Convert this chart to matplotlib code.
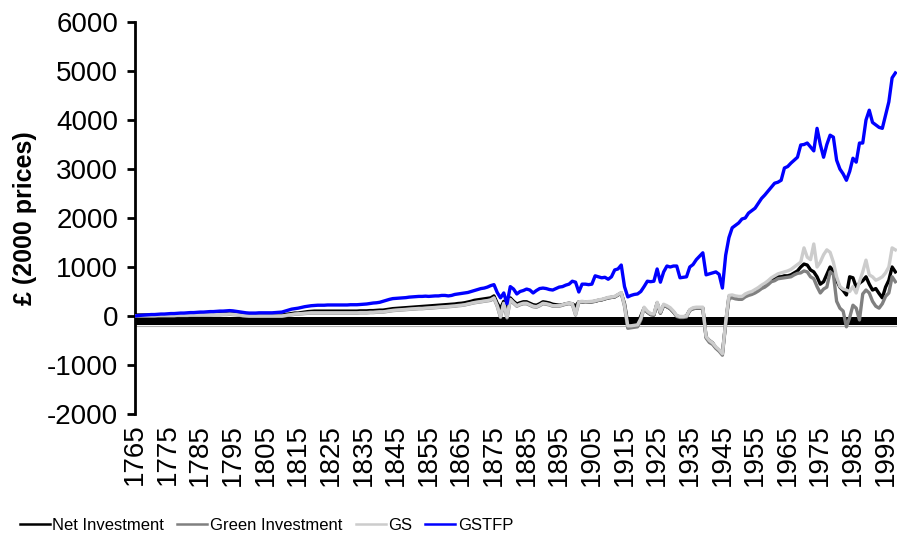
import numpy as np
import matplotlib
matplotlib.use("Agg")
import matplotlib.pyplot as plt

# years 1765 - 1998, one value per year
years = np.arange(1765, 1999)

net_investment = [
    20, 20, 20, 20, 20, 20, 20, 25, 25, 25,
    25, 25, 25, 30, 30, 30, 35, 35, 35, 40,
    40, 40, 45, 45, 45, 50, 50, 55, 55, 60,
    55, 50, 40, 30, 25, 20, 20, 20, 20, 20,
    20, 20, 20, 20, 20, 20, 30, 40, 50, 60,
    60, 70, 80, 90, 95, 100, 100, 100, 100, 100,
    100, 100, 100, 100, 100, 100, 100, 100, 100, 105,
    105, 105, 110, 110, 115, 120, 120, 130, 140, 150,
    155, 160, 165, 170, 175, 180, 185, 190, 195, 200,
    205, 210, 215, 220, 225, 230, 235, 240, 245, 255,
    260, 270, 285, 300, 320, 330, 340, 350, 360, 370,
    410, 260, 150, 300, 120, 370, 300, 245, 270, 290,
    290, 260, 230, 220, 250, 290, 280, 265, 240, 230,
    220, 230, 250, 260, 250, 200, 290, 290, 280, 285,
    290, 300, 320, 330, 350, 370, 380, 390, 430, 470,
    250, -150, -180, -200, -150, 0, 160, 80, 30, 20,
    265, 60, 220, 190, 150, 80, 0, -20, -20, 0,
    120, 150, 160, 160, 160, -430, -500, -550, -650, -700,
    -760, -140, 390, 400, 380, 370, 370, 420, 450, 470,
    500, 540, 590, 620, 680, 730, 760, 800, 800, 820,
    820, 840, 880, 920, 1000, 1060, 1040, 940, 900, 800,
    650, 700, 850, 1000, 920, 730, 590, 520, 430, 800,
    780, 590, 670, 720, 800, 650, 530, 560, 460, 370,
    590, 730, 1000, 900,
]

green_investment = [
    0, 0, 0, 0, 0, 0, 0, 5, 5, 5,
    5, 5, 5, 10, 10, 10, 10, 15, 15, 15,
    15, 20, 20, 20, 25, 25, 25, 30, 30, 35,
    30, 25, 15, 5, 0, -5, -5, -5, -5, -5,
    -5, -5, -5, -5, -5, -5, 5, 15, 25, 35,
    40, 45, 50, 55, 60, 60, 60, 60, 60, 60,
    60, 60, 60, 60, 60, 60, 60, 60, 60, 65,
    65, 65, 70, 70, 75, 80, 80, 90, 100, 110,
    115, 120, 125, 130, 135, 140, 145, 150, 150, 155,
    160, 165, 170, 175, 180, 185, 190, 195, 200, 210,
    215, 225, 240, 255, 270, 280, 290, 300, 310, 320,
    360, 200, -30, 250, -40, 330, 260, 200, 230, 250,
    250, 220, 190, 180, 210, 250, 240, 225, 200, 200,
    200, 220, 240, 250, 240, 20, 280, 290, 280, 285,
    290, 300, 320, 330, 350, 370, 380, 390, 430, 470,
    200, -250, -240, -230, -220, -80, 160, 80, 30, 20,
    260, 60, 220, 190, 150, 80, -10, -30, -30, -20,
    110, 150, 160, 160, 160, -450, -540, -580, -660, -720,
    -800, -160, 360, 370, 350, 340, 340, 390, 420, 440,
    470, 510, 560, 590, 640, 700, 720, 760, 770, 780,
    790, 800, 840, 870, 880, 920, 900, 800, 760, 600,
    470, 550, 590, 900, 850, 300, 160, 100, -220, -30,
    220, 160, -80, 450, 530, 470, 300, 200, 160, 250,
    400, 470, 800, 700,
]

gs = [
    5, 5, 5, 5, 5, 5, 5, 10, 10, 10,
    10, 10, 10, 15, 15, 15, 15, 20, 20, 20,
    20, 25, 25, 25, 30, 30, 30, 35, 35, 40,
    35, 30, 20, 10, 5, 0, 0, 0, 0, 0,
    0, 0, 0, 0, 0, 0, 10, 20, 30, 40,
    45, 50, 55, 60, 65, 65, 65, 65, 65, 65,
    65, 65, 65, 65, 65, 65, 65, 65, 65, 70,
    70, 70, 75, 75, 80, 85, 85, 95, 105, 115,
    120, 125, 130, 135, 140, 145, 150, 155, 155, 160,
    165, 170, 175, 180, 185, 190, 195, 200, 205, 215,
    220, 230, 245, 260, 275, 285, 295, 305, 315, 330,
    370, 210, -10, 260, -20, 340, 270, 210, 240, 260,
    260, 230, 200, 190, 220, 260, 250, 235, 210, 210,
    210, 230, 250, 260, 250, 30, 290, 300, 290, 295,
    300, 310, 330, 340, 360, 380, 390, 400, 440, 480,
    220, -200, -200, -190, -180, -50, 180, 100, 50, 40,
    280, 80, 240, 210, 170, 100, 10, -10, -10, 0,
    130, 170, 180, 180, 180, -420, -500, -550, -630, -690,
    -770, -120, 420, 430, 410, 400, 400, 450, 480, 500,
    540, 580, 630, 670, 720, 780, 820, 860, 880, 900,
    920, 950, 1000, 1050, 1100, 1390, 1200, 1150, 1470, 1000,
    1100, 1250, 1350, 1300, 1100, 800, 600, 550, 530, 500,
    600, 470, 700, 900, 1140, 840, 800, 730, 760, 800,
    880, 1000, 1390, 1350,
]

gstfp = [
    0, 10, 15, 20, 25, 30, 30, 35, 40, 40,
    45, 50, 50, 55, 60, 60, 65, 70, 70, 75,
    80, 80, 85, 90, 90, 95, 100, 100, 105, 110,
    105, 95, 85, 75, 65, 60, 60, 60, 65, 65,
    65, 65, 65, 70, 75, 80, 100, 120, 140, 150,
    160, 175, 190, 200, 210, 215, 220, 220, 220, 225,
    225, 225, 225, 225, 225, 225, 230, 230, 230, 235,
    240, 245, 255, 265, 270, 280, 300, 320, 340, 355,
    360, 365, 370, 375, 385, 390, 395, 400, 400, 405,
    400, 405, 410, 410, 420, 420, 410, 420, 440, 450,
    460, 470, 480, 500, 520, 540, 560, 570, 590, 620,
    640, 480, 370, 470, 250, 600, 550, 450, 500, 520,
    550, 530, 470, 520, 560, 570, 560, 540, 530, 560,
    590, 600, 630, 650, 710, 690, 490, 650, 650, 640,
    650, 820, 800, 780, 790, 750, 800, 940, 960, 1040,
    600, 390, 420, 440, 450, 500, 600, 710, 700, 710,
    960, 690, 900, 1020, 1000, 1020, 1020, 780, 790, 800,
    1000, 1050, 1150, 1220, 1290, 840, 860, 880, 900, 850,
    570, 1240, 1600, 1800, 1850, 1900, 1980, 2000, 2100, 2150,
    2200, 2300, 2400, 2470, 2550, 2630, 2710, 2730, 2770, 3020,
    3050, 3120, 3180, 3240, 3490, 3500, 3530, 3450, 3370, 3830,
    3500, 3240, 3500, 3690, 3650, 3180, 3000, 2900, 2770, 2950,
    3220, 3140, 3530, 3530, 4000, 4200, 3950, 3900, 3850, 3830,
    4100, 4370, 4860, 4960,
]

xtick_years = list(range(1765, 1996, 10))
yticks = [-2000, -1000, 0, 1000, 2000, 3000, 4000, 5000, 6000]

plt.rcParams['font.family'] = ['Liberation Sans', 'DejaVu Sans']
plt.rcParams['axes.unicode_minus'] = False

fig = plt.figure(figsize=(8.97, 5.42), dpi=100)
ax = fig.add_axes([135 / 897, 128 / 542, 762 / 897, 392 / 542])

# thick band under the zero line
ax.axhspan(-190, -20, color='black', lw=0, zorder=1)
ax.axhline(-195, color='#b0b0b0', lw=0.8, zorder=1)

lw = 2.4
ax.plot(years, net_investment, color='black', lw=lw, label='Net Investment', zorder=3)
ax.plot(years, green_investment, color='#808080', lw=lw, label='Green Investment', zorder=3)
ax.plot(years, gs, color='#cccccc', lw=lw, label='GS', zorder=3)
ax.plot(years, gstfp, color='#0000ff', lw=lw, label='GSTFP', zorder=4)

ax.set_xlim(1765, 1998.5)
ax.set_ylim(-2000, 6000)
ax.set_yticks(yticks)
ax.set_xticks(xtick_years)
ax.set_xticklabels([str(y) for y in xtick_years], rotation=90)

for s in ['top', 'right', 'bottom']:
    ax.spines[s].set_visible(False)
ax.spines['left'].set_linewidth(2)
ax.tick_params(axis='y', direction='out', length=6, width=2, labelsize=20, pad=6)
ax.tick_params(axis='x', length=0, labelsize=20, pad=7)

ax.set_ylabel('£ (2000 prices)', fontsize=18, fontweight='bold')
ax.yaxis.set_label_coords(-0.128, 0.5)

leg = fig.legend(loc='center', bbox_to_anchor=(0.297, 0.03), ncol=4, frameon=False,
                 prop={'size': 12}, handlelength=1.8, handletextpad=0.15,
                 columnspacing=0.8)
for h in leg.get_lines():
    h.set_linewidth(1.8)

fig.savefig('out.png', dpi=100)
